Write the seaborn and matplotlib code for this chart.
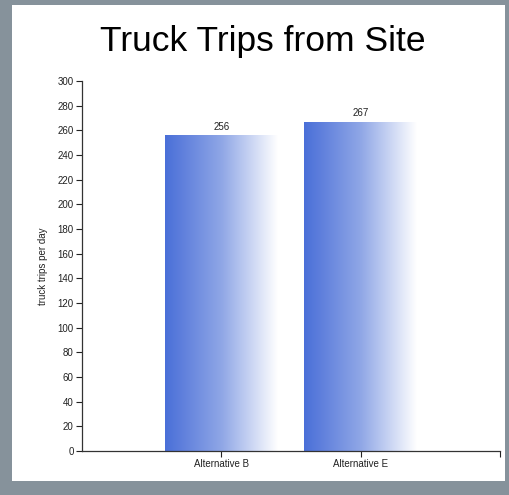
import matplotlib
matplotlib.use("Agg")
import matplotlib.pyplot as plt
import seaborn as sns
import numpy as np
import pandas as pd
from matplotlib.patches import Rectangle
from matplotlib.colors import LinearSegmentedColormap

categories = ["Alternative B", "Alternative E"]
values = [256, 267]
title = "Truck Trips from Site"
ylabel = "truck trips per day"

sns.set_theme(style="white")
plt.rcParams['font.family'] = ['Liberation Sans', 'DejaVu Sans']

fig = plt.figure(figsize=(5.09, 4.95), dpi=100, facecolor="#86929b")
fig.patches.append(Rectangle((12/509, 14/495), 493/509, 476/495, transform=fig.transFigure,
                             facecolor="white", edgecolor="none", zorder=-5))
ax = fig.add_axes([82/509, 44/495, 418/509, 370/495])
ax.set_facecolor("white")
ax.set_zorder(2)

df = pd.DataFrame({"cat": categories, "val": values})
sns.barplot(data=df, x="cat", y="val", ax=ax, width=0.81, color="#4a6fd8",
            edgecolor="none", saturation=1)

cmap = LinearSegmentedColormap.from_list("g", ["#4a6fd8", "#8fa6e6", "#ffffff"])
grad = np.linspace(0, 1, 256).reshape(1, -1)
for p in ax.patches:
    x0, y0 = p.get_x(), p.get_y()
    w, h = p.get_width(), p.get_height()
    im = ax.imshow(grad, cmap=cmap, aspect="auto", extent=[x0, x0 + w, y0, y0 + h],
                   interpolation="bilinear", zorder=p.get_zorder() + 0.1)
    im.set_clip_path(p)
    p.set_facecolor("none")

for i, v in enumerate(values):
    ax.text(i, v + 3, str(v), ha="center", va="bottom", fontsize=7, color="#222222")

ax.set_xlim(-1, 2)
ax.set_ylim(0, 300)
ax.set_yticks(range(0, 301, 20))
ax.set_xticks([0, 1, 2])
ax.set_xticklabels(categories + [""])
ax.set_xlabel("")
ax.set_ylabel(ylabel, fontsize=7, color="#222222", labelpad=7)
ax.tick_params(axis="both", labelsize=7, colors="#222222", length=4, width=0.8,
               direction="out", bottom=True, left=True, pad=2)
for s in ["top", "right"]:
    ax.spines[s].set_visible(False)
for s in ["left", "bottom"]:
    ax.spines[s].set_color("#333333")
    ax.spines[s].set_linewidth(0.9)

fig.text(263/509, 454/495, title, ha="center", va="center", fontsize=25.5, color="black")

fig.savefig("out.png", dpi=100, facecolor=fig.get_facecolor())
